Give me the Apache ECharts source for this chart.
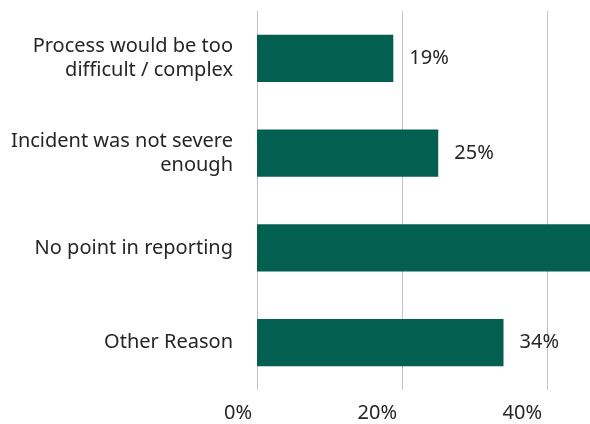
<!DOCTYPE html>
<html>
<head>
<meta charset="utf-8">
<script src="https://cdn.jsdelivr.net/npm/echarts@6/dist/echarts.min.js"></script>
<style>html,body{margin:0;padding:0;background:#fff}#c{width:590px;height:424px}</style>
</head>
<body>
<div id="c"></div>
<script>
var categories = ["Process would be too\ndifficult / complex", "Incident was not severe\nenough", "No point in reporting", "Other Reason"];
var values = [18.8, 25, 50, 34];
var valueLabels = ["19%", "25%", "50%", "34%"];
var tickMin = 0, tickMax = 60, tickStep = 20;

var chart = echarts.init(document.getElementById('c'), null, {renderer: 'canvas'});
var font = '"Noto Sans", sans-serif';
chart.setOption({
  animation: false,
  grid: {left: 257, top: 11, bottom: 34, right: -102, outerBoundsMode: 'none', containLabel: false},
  xAxis: {
    type: 'value', min: tickMin, max: tickMax, interval: tickStep,
    axisLine: {show: false}, axisTick: {show: false},
    splitLine: {show: true, lineStyle: {color: '#c4c4c4', width: 1}},
    axisLabel: {formatter: '{value}%', color: '#262626', fontSize: 20, fontFamily: font, align: 'right', margin: 13, padding: [0, 5, 0, 0]}
  },
  yAxis: {
    type: 'category', data: categories, inverse: true,
    axisLine: {show: false}, axisTick: {show: false},
    axisLabel: {color: '#262626', fontSize: 20, fontFamily: font, lineHeight: 24, margin: 24, align: 'right'}
  },
  series: [{
    type: 'bar', data: values, barWidth: '50%',
    itemStyle: {color: '#035f50'},
    label: {show: true, position: 'right', distance: 16, color: '#262626', fontSize: 20, fontFamily: font,
      formatter: function(p){ return valueLabels[p.dataIndex]; }}
  }]
});
</script>
</body>
</html>
